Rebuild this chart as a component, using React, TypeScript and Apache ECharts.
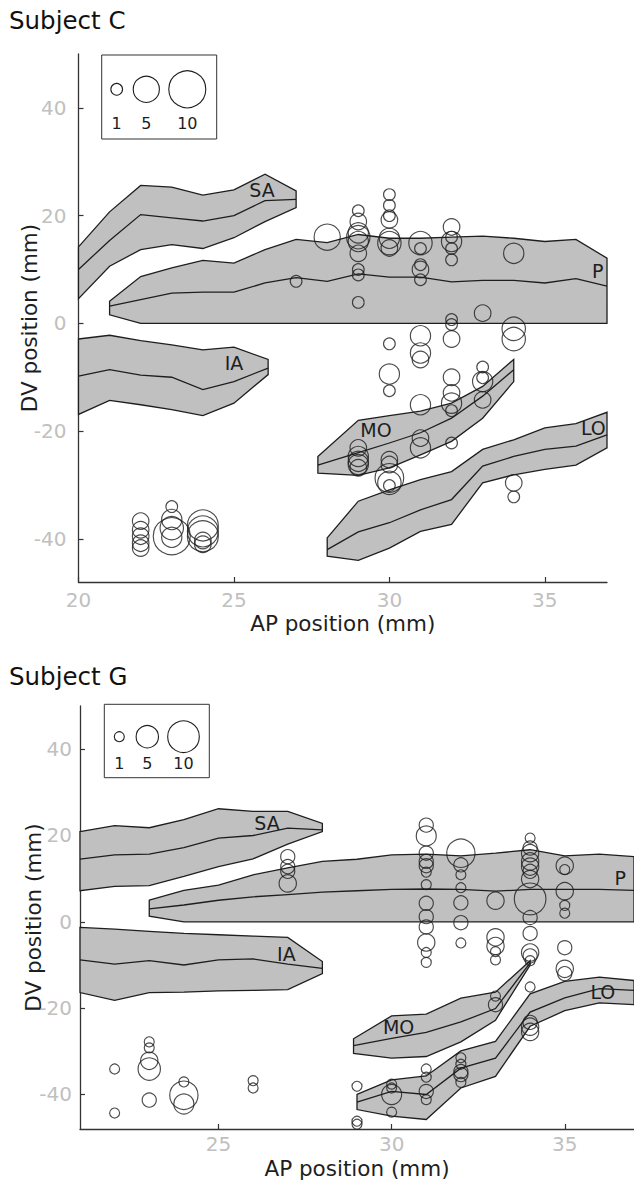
import React, { useEffect, useRef } from "react";
import * as echarts from "echarts";

// ---------- Subject C : regions (AP mm, DV mm) ----------
const saCx = [20, 21, 22, 23, 24, 25, 26, 27];
const saCup = [14.2, 20.7, 25.6, 25.3, 23.8, 24.8, 27.7, 24.6];
const saCmid = [10.0, 15.4, 20.2, 19.6, 19.0, 20.0, 22.8, 23.0];
const saClo = [4.6, 10.6, 13.7, 14.6, 13.9, 15.9, 18.9, 21.5];

const pCx = [21, 22, 23, 24, 25, 26, 27, 28, 29, 30, 31, 32, 33, 34, 35, 36, 37];
const pCup = [4.1, 8.7, 10.3, 11.7, 11.2, 13.7, 15.6, 15.0, 16.5, 15.8, 15.8, 16.0, 16.2, 15.8, 15.2, 15.6, 12.1];
const pCmid = [3.2, 4.4, 5.6, 5.8, 5.8, 7.5, 8.5, 7.8, 9.2, 8.6, 8.6, 7.7, 8.0, 8.0, 7.5, 8.3, 6.9];
const pClo = [1.6, 0, 0, 0, 0, 0, 0, 0, 0, 0, 0, 0, 0, 0, 0, 0, 0];

const iaCx = [20, 21, 22, 23, 24, 25, 26.1];
const iaCup = [-2.9, -2.2, -3.2, -4.0, -4.9, -4.4, -6.7];
const iaCmid = [-9.8, -8.6, -9.6, -10.0, -12.3, -10.8, -8.3];
const iaClo = [-16.9, -14.3, -15.1, -16.0, -17.1, -14.8, -9.5];

const moCx = [27.7, 29, 30, 31, 32, 33, 34];
const moCup = [-24.7, -18.0, -17.1, -16.3, -14.8, -11.7, -6.7];
const moCmid = [-26.3, -24.0, -22.2, -20.3, -17.6, -13.5, -8.6];
const moClo = [-27.8, -28.2, -26.8, -24.4, -21.9, -17.6, -10.8];

const loCx = [28, 29, 30, 31, 32, 33, 34, 35, 36, 37];
const loCup = [-39.8, -33.0, -30.9, -29.0, -27.5, -23.4, -21.6, -19.4, -18.6, -16.5];
const loCmid = [-42.0, -38.7, -37.0, -34.6, -32.7, -26.5, -24.7, -23.4, -22.8, -20.7];
const loClo = [-43.2, -44.0, -41.7, -38.6, -37.3, -29.6, -28.1, -27.1, -26.3, -23.1];

// ---------- Subject G : regions ----------
const saGx = [21, 22, 23, 24, 25, 26, 27, 28];
const saGup = [20.9, 22.3, 21.8, 23.7, 26.2, 25.6, 25.6, 22.8];
const saGmid = [14.5, 15.5, 15.7, 17.2, 19.4, 20.0, 21.7, 21.3];
const saGlo = [7.2, 8.2, 8.4, 10.5, 12.8, 14.6, 18.0, 20.9];

const pGx = [23, 24, 25, 26, 27, 28, 29, 30, 31, 32, 33, 34, 35, 36, 37];
const pGup = [5.0, 7.3, 8.5, 10.9, 12.5, 14.0, 14.5, 15.5, 15.7, 15.3, 15.9, 16.7, 15.3, 15.7, 15.1];
const pGmid = [3.0, 3.9, 5.0, 5.8, 6.3, 6.9, 7.2, 7.5, 7.6, 7.5, 7.1, 7.5, 7.5, 7.5, 7.3];
const pGlo = [1.3, 0, 0, 0, 0, 0, 0, 0, 0, 0, 0, 0, 0, 0, 0];

const iaGx = [21, 22, 23, 24, 25, 26, 27, 28];
const iaGup = [-1.3, -1.7, -2.2, -2.7, -3.0, -3.3, -3.6, -9.2];
const iaGmid = [-8.8, -9.8, -9.0, -10.0, -8.8, -8.6, -9.8, -10.8];
const iaGlo = [-16.4, -18.2, -16.4, -16.3, -16.0, -15.9, -15.7, -12.0];

const moGx = [28.9, 30, 31, 32, 33, 34];
const moGup = [-27.1, -21.8, -21.4, -17.7, -16.3, -9.0];
const moGmid = [-28.7, -27.0, -25.6, -23.2, -20.1, -9.5];
const moGlo = [-30.5, -31.6, -31.2, -27.8, -22.8, -10.0];

const loGx = [29, 30, 31, 32, 33, 34, 35, 36, 37];
const loGup = [-40.0, -36.6, -35.7, -29.9, -27.7, -16.7, -13.8, -12.8, -13.6];
const loGmid = [-41.8, -39.3, -40.0, -33.9, -31.6, -20.9, -17.6, -15.5, -15.9];
const loGlo = [-43.5, -45.0, -45.8, -38.5, -35.8, -24.2, -20.6, -18.8, -19.2];

// ---------- bubbles [AP, DV, count] ----------
const bubblesC = [
  [22, -36.7, 2], [22, -38.3, 2], [22, -39.5, 2], [22, -40.8, 2], [22, -41.7, 2],
  [23, -34.0, 1], [23, -36.4, 3], [23, -38.0, 4], [23, -39.5, 10], [23, -39.7, 3],
  [24, -37.5, 7], [24, -38.6, 7], [24, -39.5, 7], [24, -40.3, 2], [24, -41.0, 2],
  [27, 7.8, 1],
  [28, 16.0, 5],
  [29, 20.9, 1], [29, 18.9, 2], [29, 16.8, 3], [29, 16.0, 4], [29, 15.2, 3], [29, 13.0, 2],
  [29, 10.0, 1], [29, 9.0, 1], [29, 3.9, 1],
  [29, -23.1, 2], [29, -24.7, 3], [29, -25.6, 3], [29, -26.2, 3], [29, -26.8, 2],
  [30, 23.9, 1], [30, 21.9, 1], [30, 20.0, 1], [30, 19.2, 2], [30, 15.8, 3], [30, 14.9, 4], [30, 14.0, 2],
  [30, -3.8, 1], [30, -9.4, 3], [30, -12.5, 1],
  [30, -25.3, 2], [30, -26.2, 2], [30, -28.7, 6], [30, -29.6, 4], [30, -30.1, 1],
  [31, 14.9, 4], [31, 13.9, 1], [31, 10.9, 1], [31, 10.0, 2], [31, 8.1, 1],
  [31, -2.3, 3], [31, -5.5, 3], [31, -6.7, 2], [31, -15.1, 3], [31, -21.3, 2], [31, -23.1, 3],
  [32, 17.9, 2], [32, 16.0, 1], [32, 15.2, 3], [32, 13.9, 1], [32, 11.8, 1], [32, 0.7, 1], [32, -0.2, 1],
  [32, -2.9, 2], [32, -10.0, 2], [32, -12.9, 2], [32, -14.8, 3], [32, -16.2, 1], [32, -22.2, 1],
  [33, 1.9, 2], [33, -8.1, 1], [33, -10.1, 1], [33, -10.8, 3], [33, -14.2, 2],
  [34, 13.0, 3], [34, -1.0, 4], [34, -2.9, 4], [34, -29.6, 2], [34, -32.2, 1],
];

const bubblesG = [
  [22, -34.1, 1], [22, -44.3, 1],
  [23, -27.8, 1], [23, -29.2, 1], [23, -32.2, 3], [23, -34.1, 5], [23, -41.3, 2],
  [24, -37.1, 1], [24, -40.2, 8], [24, -42.2, 4],
  [26, -36.8, 1], [26, -38.5, 1],
  [27, 15.1, 2], [27, 12.8, 2], [27, 11.7, 2], [27, 8.9, 3],
  [29, -38.1, 1], [29, -46.2, 1], [29, -46.9, 1],
  [30, -37.6, 1], [30, -38.5, 1], [30, -40.0, 4], [30, -44.1, 1],
  [31, 22.4, 2], [31, 19.9, 4], [31, 15.9, 2], [31, 14.0, 2], [31, 13.0, 2], [31, 11.5, 1], [31, 8.6, 1],
  [31, 4.3, 2], [31, 1.2, 2], [31, -1.2, 2], [31, -4.8, 3], [31, -7.1, 1], [31, -9.4, 1],
  [31, -34.1, 1], [31, -36.0, 1], [31, -39.3, 2], [31, -41.2, 1],
  [32, 15.9, 8], [32, 13.2, 2], [32, 10.9, 1], [32, 7.9, 1], [32, 4.4, 2], [32, -0.2, 2], [32, -4.9, 1],
  [32, -31.5, 1], [32, -33.0, 1], [32, -34.7, 2], [32, -35.4, 2], [32, -37.2, 1],
  [33, 4.9, 3], [33, -3.6, 3], [33, -5.6, 3], [33, -6.9, 1], [33, -8.8, 1], [33, -17.2, 1], [33, -19.2, 2],
  [34, 19.4, 1], [34, 17.1, 2], [34, 15.9, 3], [34, 14.0, 3], [34, 12.8, 3], [34, 11.7, 2], [34, 9.9, 3],
  [34, 5.3, 10], [34, 1.0, 2], [34, -2.7, 2], [34, -7.1, 3], [34, -7.9, 2], [34, -9.0, 1],
  [34, -15.1, 1], [34, -23.3, 2], [34, -24.3, 3], [34, -25.5, 3],
  [35, 13.0, 3], [35, 12.1, 1], [35, 7.1, 3], [35, 3.8, 1], [35, 2.0, 1], [35, -6.0, 2], [35, -10.9, 3], [35, -12.0, 2],
];

const legendCounts = [1, 5, 10];
const xTicksC = [20, 25, 30, 35];
const xTicksG = [25, 30, 35];
const yTicks = [-40, -20, 0, 20, 40];

const FONT = "DejaVu Sans";
const INK = "#1e1e1e";
const GRAY = "#c0c0c0";

const sizeC = (n: number) => 11.7 * Math.sqrt(n);
const sizeG = (n: number) => 10 * Math.sqrt(n);

function band(idx: number, xs: number[], up: number[], mid: number[], lo: number[], label: string, lx: number, ly: number) {
  return {
    type: "custom",
    xAxisIndex: idx,
    yAxisIndex: idx,
    z: 2,
    silent: true,
    data: [[xs[0], mid[0]]],
    encode: { x: 0, y: 1 },
    renderItem: (_params: any, api: any) => {
      const top = xs.map((x, i) => api.coord([x, up[i]]));
      const bot = xs.map((x, i) => api.coord([x, lo[i]])).reverse();
      const m = xs.map((x, i) => api.coord([x, mid[i]]));
      const lp = api.coord([lx, ly]);
      return {
        type: "group",
        children: [
          { type: "polygon", shape: { points: top.concat(bot) }, style: { fill: GRAY, stroke: INK, lineWidth: 1.3 } },
          { type: "polyline", shape: { points: m }, style: { fill: null, stroke: INK, lineWidth: 1.3 } },
          {
            type: "text",
            x: lp[0],
            y: lp[1],
            style: { text: label, fill: INK, fontSize: 19, fontFamily: FONT, align: "center", verticalAlign: "middle" },
          },
        ],
      };
    },
  };
}

function xAxis(idx: number, min: number, ticks: number[], margin: number, nameGap: number) {
  return {
    type: "value",
    gridIndex: idx,
    min,
    max: 37,
    axisLine: { show: true, onZero: false, lineStyle: { color: "#333", width: 1.3 } },
    axisTick: { show: true, inside: true, length: 5, customValues: ticks, lineStyle: { color: "#333", width: 1.2 } },
    axisLabel: { customValues: ticks, color: GRAY, fontSize: 20, fontFamily: FONT, margin },
    splitLine: { show: false },
    name: "AP position (mm)",
    nameLocation: "middle",
    nameGap,
    nameMoveOverlap: false,
    nameTextStyle: { color: INK, fontSize: 21.5, fontFamily: FONT },
  };
}

function yAxis(idx: number, margin: number, nameGap: number) {
  return {
    type: "value",
    gridIndex: idx,
    min: -48,
    max: 50,
    axisLine: { show: true, onZero: false, lineStyle: { color: "#333", width: 1.3 } },
    axisTick: { show: true, inside: true, length: 5, customValues: yTicks, lineStyle: { color: "#333", width: 1.2 } },
    axisLabel: { customValues: yTicks, color: GRAY, fontSize: 20, fontFamily: FONT, margin },
    splitLine: { show: false },
    name: "DV position (mm)",
    nameLocation: "middle",
    nameGap,
    nameRotate: 90,
    nameMoveOverlap: false,
    nameTextStyle: { color: INK, fontSize: 21.5, fontFamily: FONT },
  };
}

function legendGraphic(bx: number, by: number, bw: number, bh: number, cxs: number[], cy: number, ty: number, size: (n: number) => number) {
  const children: any[] = [
    { type: "rect", shape: { x: bx, y: by, width: bw, height: bh }, style: { fill: "#fff", stroke: "#333", lineWidth: 1 } },
  ];
  legendCounts.forEach((n, i) => {
    children.push({
      type: "circle",
      shape: { cx: cxs[i], cy, r: size(n) / 2 },
      style: { fill: "none", stroke: INK, lineWidth: 1.1 },
    });
    children.push({
      type: "text",
      x: cxs[i],
      y: ty,
      style: { text: String(n), fill: INK, fontSize: 16, fontFamily: FONT, align: "center", verticalAlign: "middle" },
    });
  });
  return { type: "group", children };
}

export default function App() {
  const ref = useRef<HTMLDivElement>(null);
  useEffect(() => {
    if (!ref.current) return;
    const chart = echarts.init(ref.current, null, { renderer: "svg" });
    const scatterStyle = { color: "rgba(0,0,0,0)", borderColor: INK, borderWidth: 1.15 };
    chart.setOption({
      animation: false,
      backgroundColor: "#fff",
      grid: [
        { left: 78.5, top: 54, width: 528.5, height: 528 },
        { left: 80, top: 706, width: 554, height: 426 },
      ],
      xAxis: [xAxis(0, 20, xTicksC, 8, 30), xAxis(1, 21, xTicksG, 5, 28)],
      yAxis: [yAxis(0, 12, 38), yAxis(1, 8, 36)],
      series: [
        band(0, saCx, saCup, saCmid, saClo, "SA", 25.9, 24.7),
        band(0, pCx, pCup, pCmid, pClo, "P", 36.7, 9.8),
        band(0, iaCx, iaCup, iaCmid, iaClo, "IA", 25.0, -7.4),
        band(0, moCx, moCup, moCmid, moClo, "MO", 29.57, -19.7),
        band(0, loCx, loCup, loCmid, loClo, "LO", 36.56, -19.5),
        band(1, saGx, saGup, saGmid, saGlo, "SA", 26.4, 22.8),
        band(1, pGx, pGup, pGmid, pGlo, "P", 36.6, 10.2),
        band(1, iaGx, iaGup, iaGmid, iaGlo, "IA", 26.96, -7.5),
        band(1, moGx, moGup, moGmid, moGlo, "MO", 30.2, -24.3),
        band(1, loGx, loGup, loGmid, loGlo, "LO", 36.1, -16.3),
        {
          type: "scatter",
          xAxisIndex: 0,
          yAxisIndex: 0,
          z: 3,
          silent: true,
          symbol: "circle",
          symbolSize: (v: number[]) => sizeC(v[2]),
          itemStyle: scatterStyle,
          data: bubblesC,
        },
        {
          type: "scatter",
          xAxisIndex: 1,
          yAxisIndex: 1,
          z: 3,
          silent: true,
          symbol: "circle",
          symbolSize: (v: number[]) => sizeG(v[2]),
          itemStyle: scatterStyle,
          data: bubblesG,
        },
      ],
      graphic: [
        { type: "text", x: 9, y: 20, style: { text: "Subject C", fill: "#111", fontSize: 24.5, fontFamily: FONT, verticalAlign: "middle" } },
        { type: "text", x: 9, y: 676, style: { text: "Subject G", fill: "#111", fontSize: 24.5, fontFamily: FONT, verticalAlign: "middle" } },
        legendGraphic(101.7, 55, 115, 84, [116.7, 146.3, 187.3], 89.3, 123, sizeC),
        legendGraphic(104.3, 704.3, 105, 73.4, [119.3, 147.3, 183.5], 736.7, 763.3, sizeG),
      ],
    });
    return () => chart.dispose();
  }, []);
  return <div ref={ref} style={{ position: "absolute", left: 0, top: 0, width: 634, height: 1180 }} />;
}
